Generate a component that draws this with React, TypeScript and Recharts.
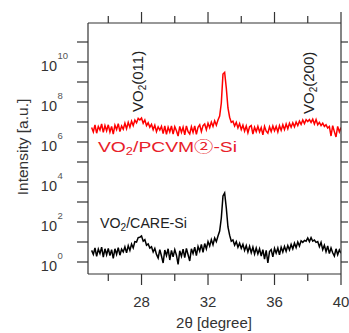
import { LineChart, Line, XAxis, YAxis } from 'recharts';

// 2θ sample positions [degree]
const twoTheta = [
  25.0, 25.1, 25.2, 25.3, 25.4, 25.5, 25.6, 25.7, 25.8, 25.9, 26.0,
  26.1, 26.2, 26.3, 26.4, 26.5, 26.6, 26.7, 26.8, 26.9, 27.0,
  27.1, 27.2, 27.3, 27.4, 27.5, 27.6, 27.7, 27.8, 27.9, 28.0,
  28.1, 28.2, 28.3, 28.4, 28.5, 28.6, 28.7, 28.8, 28.9, 29.0,
  29.1, 29.2, 29.3, 29.4, 29.5, 29.6, 29.7, 29.8, 29.9, 30.0,
  30.1, 30.2, 30.3, 30.4, 30.5, 30.6, 30.7, 30.8, 30.9, 31.0,
  31.1, 31.2, 31.3, 31.4, 31.5, 31.6, 31.7, 31.8, 31.9, 32.0,
  32.1, 32.2, 32.3, 32.4, 32.5, 32.6, 32.7, 32.8, 32.9, 33.0,
  33.1, 33.2, 33.3, 33.4, 33.5, 33.6, 33.7, 33.8, 33.9, 34.0,
  34.1, 34.2, 34.3, 34.4, 34.5, 34.6, 34.7, 34.8, 34.9, 35.0,
  35.1, 35.2, 35.3, 35.4, 35.5, 35.6, 35.7, 35.8, 35.9, 36.0,
  36.1, 36.2, 36.3, 36.4, 36.5, 36.6, 36.7, 36.8, 36.9, 37.0,
  37.1, 37.2, 37.3, 37.4, 37.5, 37.6, 37.7, 37.8, 37.9, 38.0,
  38.1, 38.2, 38.3, 38.4, 38.5, 38.6, 38.7, 38.8, 38.9, 39.0,
  39.1, 39.2, 39.3, 39.4, 39.5, 39.6, 39.7, 39.8, 39.9, 40.0,
];

// log10 of intensity [a.u.], VO2/PCVM②-Si (red)
const pcvmLog = [
  6.72, 6.50, 6.86, 6.44, 6.78, 6.60, 6.90, 6.48, 6.82, 6.56, 6.86,
  6.50, 6.78, 6.40, 6.84, 6.62, 6.92, 6.52, 6.80, 6.64, 6.94,
  6.66, 6.98, 6.74, 7.04, 6.82, 7.10, 6.96, 7.18, 7.10, 7.20,
  6.94, 7.10, 6.82, 6.96, 6.74, 6.88, 6.62, 6.84, 6.52, 6.76,
  6.60, 6.78, 6.42, 6.80, 6.38, 6.74, 6.50, 6.80, 6.40, 6.76,
  6.56, 6.30, 6.78, 6.48, 6.74, 6.36, 6.80, 6.52, 6.40, 6.76,
  6.48, 6.80, 6.38, 6.74, 6.86, 6.52, 6.82, 6.90, 6.62, 6.94,
  6.72, 7.00, 6.78, 7.06, 6.84, 7.10, 7.30, 7.95, 9.40, 9.48,
  8.70, 7.70, 7.24, 6.98, 7.04, 6.80, 6.98, 6.70, 6.92, 6.62,
  6.84, 6.54, 6.80, 6.46, 6.76, 6.82, 6.40, 6.74, 6.52, 6.78,
  6.50, 6.72, 6.36, 6.78, 6.54, 6.44, 6.76, 6.52, 6.80, 6.56,
  6.78, 6.50, 6.82, 6.58, 6.86, 6.62, 6.90, 6.66, 6.94, 6.74,
  6.96, 6.76, 7.00, 6.82, 7.04, 6.88, 7.10, 6.92, 7.12, 7.02,
  7.12, 6.98, 7.14, 6.90, 7.12, 6.86, 6.98, 6.82, 6.94, 6.78,
  6.86, 6.70, 6.78, 6.30, 6.82, 6.52, 6.25, 6.78, 6.50, 6.72,
];

// log10 of intensity [a.u.], VO2/CARE-Si (black)
const careLog = [
  0.58, 0.38, 0.70, 0.28, 0.64, 0.42, 0.74, 0.25, 0.66, 0.36, 0.68,
  0.32, 0.62, 0.18, 0.66, 0.38, 0.72, 0.34, 0.64, 0.50, 0.76,
  0.46, 0.82, 0.58, 0.90, 0.70, 1.02, 1.00, 1.22, 1.24, 1.30,
  1.04, 1.12, 0.84, 0.90, 0.70, 0.76, 0.50, 0.68, 0.38, 0.20,
  0.62, 0.30, -0.05, 0.60, 0.32, 0.66, 0.10, 0.58, 0.26, 0.62,
  0.34, -0.12, 0.56, 0.28, 0.64, 0.22, 0.68, 0.36, 0.05, 0.66,
  0.42, 0.74, 0.32, 0.78, 0.54, 0.88, 0.48, 0.92, 0.66, 1.02,
  0.80, 1.12, 0.86, 1.20, 1.02, 1.30, 1.55, 2.20, 3.30, 3.45,
  2.70, 1.75, 1.34, 1.04, 1.10, 0.84, 1.02, 0.74, 0.94, 0.68,
  0.88, 0.58, 0.82, 0.50, 0.78, 0.46, 0.74, 0.40, 0.70, 0.40,
  0.66, 0.30, 0.62, 0.15, 0.58, -0.05, 0.52, 0.62, 0.26, 0.68,
  0.44, 0.70, 0.36, 0.74, 0.50, 0.78, 0.54, 0.82, 0.60, 0.88,
  0.66, 0.94, 0.72, 1.00, 0.80, 1.06, 0.98, 1.08, 1.04, 1.20,
  1.02, 1.22, 1.04, 1.10, 0.98, 1.02, 0.76, 0.98, 0.62, 0.84,
  0.52, 0.80, 0.42, 0.70, 0.46, 0.30, 0.66, 0.36, 0.60, 0.44,
];

const xTicks = [26, 28, 30, 32, 34, 36, 38, 40];
const xLabelled = [28, 32, 36, 40];
const decadeTicks = [0, 1, 2, 3, 4, 5, 6, 7, 8, 9, 10, 11];
const decadeLabelled = [0, 2, 4, 6, 8, 10];

const data = twoTheta.map((x, i) => ({ x, pcvm: pcvmLog[i], care: careLog[i] }));

const AXIS = '#333';
const FONT = '"Liberation Sans", Arial, "Noto Sans CJK JP", sans-serif';

const BottomTick = ({ x, y, payload }: any) => {
  const major = xLabelled.includes(payload.value);
  return (
    <g>
      <line x1={x} x2={x} y1={y} y2={y + (major ? 11 : 7)} stroke={AXIS} strokeWidth={1.2} />
      {major && (
        <text x={x} y={y + 33} textAnchor="middle" fontSize={15} fill="#333" fontFamily={FONT}>
          {payload.value}
        </text>
      )}
    </g>
  );
};

const TopTick = ({ x, y, payload }: any) => {
  const major = xLabelled.includes(payload.value);
  return <line x1={x} x2={x} y1={y - (major ? 11 : 7)} y2={y} stroke={AXIS} strokeWidth={1.2} />;
};

const LeftTick = ({ x, y, payload }: any) => {
  const v = payload.value;
  return (
    <g>
      <line x1={x - 11} x2={x} y1={y} y2={y} stroke={AXIS} strokeWidth={1.2} />
      {decadeLabelled.includes(v) && (
        <g fontFamily={FONT}>
          <text x={x - 31} y={y + 9} textAnchor="end" fontSize={14.5} fill="#333">10</text>
          <text x={x - 30.5} y={y - 3} fontSize={9.5} fill="#555">{v}</text>
        </g>
      )}
    </g>
  );
};

const RightTick = ({ x, y }: any) => (
  <line x1={x} x2={x + 7} y1={y} y2={y} stroke={AXIS} strokeWidth={1.2} />
);

export default function App() {
  return (
    <div style={{ position: 'absolute', left: 0, top: 0, width: 349, height: 333, background: '#fff', fontFamily: FONT }}>
      <LineChart width={349} height={333} data={data} margin={{ top: 13, right: 0, bottom: 0, left: 0 }}>
        <XAxis
          xAxisId="b"
          dataKey="x"
          type="number"
          domain={[24.78, 40]}
          allowDataOverflow
          ticks={xTicks}
          interval={0}
          height={59}
          tickSize={0}
          tickMargin={0}
          tickLine={false}
          tick={<BottomTick />}
          axisLine={{ stroke: AXIS, strokeWidth: 1.2 }}
        />
        <XAxis
          xAxisId="t"
          orientation="top"
          dataKey="x"
          type="number"
          domain={[24.78, 40]}
          allowDataOverflow
          ticks={xTicks}
          interval={0}
          height={10}
          tickSize={0}
          tickMargin={0}
          tickLine={false}
          tick={<TopTick />}
          axisLine={{ stroke: AXIS, strokeWidth: 1.2 }}
        />
        <YAxis
          yAxisId="l"
          type="number"
          domain={[-0.6, 11.95]}
          allowDataOverflow
          ticks={decadeTicks}
          interval={0}
          width={88}
          tickSize={0}
          tickMargin={0}
          tickLine={false}
          tick={<LeftTick />}
          axisLine={{ stroke: AXIS, strokeWidth: 1.2 }}
        />
        <YAxis
          yAxisId="r"
          orientation="right"
          type="number"
          domain={[-0.6, 11.95]}
          allowDataOverflow
          ticks={decadeTicks}
          interval={0}
          width={8}
          tickSize={0}
          tickMargin={0}
          tickLine={false}
          tick={<RightTick />}
          axisLine={{ stroke: AXIS, strokeWidth: 1.2 }}
        />
        <Line xAxisId="b" yAxisId="l" dataKey="pcvm" stroke="#ff0000" strokeWidth={1.5} dot={false} isAnimationActive={false} />
        <Line xAxisId="b" yAxisId="l" dataKey="care" stroke="#000" strokeWidth={1.5} dot={false} isAnimationActive={false} />
        <Line xAxisId="t" yAxisId="r" dataKey="care" stroke="none" dot={false} isAnimationActive={false} />
      </LineChart>

      <svg width={349} height={333} style={{ position: 'absolute', left: 0, top: 0, pointerEvents: 'none' }} fontFamily={FONT}>
        <text x={28} y={147} transform="rotate(-90, 28, 147)" textAnchor="middle" fontSize={15.5} fill="#333">
          Intensity [a.u.]
        </text>
        <text x={214} y={328} textAnchor="middle" fontSize={15} fill="#333">
          2θ [degree]
        </text>
        <text x={143} y={112} transform="rotate(-90, 143, 112)" fontSize={15} fill="#222">
          VO<tspan fontSize={10} dy={3}>2</tspan><tspan dy={-3}>(011)</tspan>
        </text>
        <text x={313.5} y={114} transform="rotate(-90, 313.5, 114)" fontSize={15} fill="#222">
          VO<tspan fontSize={10} dy={3}>2</tspan><tspan dy={-3}>(200)</tspan>
        </text>
        <text x={98} y={152} fontSize={15} fill="#e8202a" textLength={139} lengthAdjust="spacingAndGlyphs">
          VO<tspan fontSize={10} dy={3}>2</tspan><tspan dy={-3}>/PCVM②-Si</tspan>
        </text>
        <text x={100} y={228} fontSize={14} fill="#222" textLength={87} lengthAdjust="spacingAndGlyphs">
          VO<tspan fontSize={10} dy={3}>2</tspan><tspan dy={-3}>/CARE-Si</tspan>
        </text>
      </svg>
    </div>
  );
}
